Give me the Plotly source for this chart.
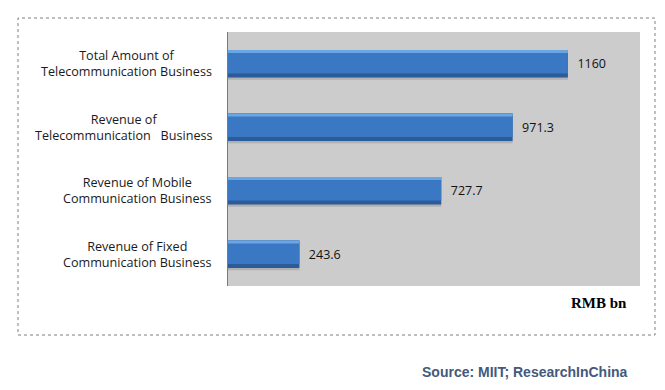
import plotly.graph_objects as go

categories = [
    "Total Amount of<br>Telecommunication Business",
    "Revenue of<br>Telecommunication   Business",
    "Revenue of Mobile<br>Communication Business",
    "Revenue of Fixed<br>Communication Business",
]
values = [1160, 971.3, 727.7, 243.6]
unit_label = "RMB bn"
source_text = "Source: MIIT; ResearchInChina"

cat_ids = list(range(len(categories)))
texts = [f"{v:g}" for v in values]

fig = go.Figure()

# shadow
fig.add_trace(go.Bar(y=cat_ids, x=values, orientation="h", width=0.43, offset=-0.215 + 0.035,
                     marker=dict(color="#b0b0b0", line=dict(width=0)), hoverinfo="skip"))
# base (dark bottom edge)
fig.add_trace(go.Bar(y=cat_ids, x=values, orientation="h", width=0.43, offset=-0.215,
                     marker=dict(color="#2b5b99", line=dict(width=0)),
                     text=texts, textposition="outside", texttemplate="  %{text}",
                     textfont=dict(family="Open Sans", size=12.5, color="#111111"),
                     cliponaxis=False))
# middle
fig.add_trace(go.Bar(y=cat_ids, x=values, orientation="h", width=0.37, offset=-0.215,
                     marker=dict(color="#3a78c4", line=dict(width=0)), hoverinfo="skip"))
# top highlight
fig.add_trace(go.Bar(y=cat_ids, x=values, orientation="h", width=0.045, offset=-0.215,
                     marker=dict(color="#6aa6e3", line=dict(width=0)), hoverinfo="skip"))

for i, c in enumerate(categories):
    fig.add_annotation(x=-0.034, xref="paper", y=i, yref="y", text=c, showarrow=False,
                       xanchor="right", align="center",
                       font=dict(family="Open Sans", size=12.6, color="#1a1a1a"))

fig.add_annotation(x=0.974, xref="paper", y=-0.067, yref="paper", text=f"<b>{unit_label}</b>",
                   showarrow=False, xanchor="right", yanchor="middle",
                   font=dict(family="Liberation Serif", size=15, color="#000000"))
fig.add_annotation(x=0.976, xref="paper", y=-0.339, yref="paper", text=f"<b>{source_text}</b>",
                   showarrow=False, xanchor="right", yanchor="middle",
                   font=dict(family="Liberation Sans", size=14, color="#44597c"))

fig.add_shape(type="rect", xref="paper", yref="paper", x0=-0.5097, x1=1.0364, y0=-0.193, y1=1.055,
              line=dict(color="#7f7f7f", width=1, dash="dot"), fillcolor="rgba(0,0,0,0)", layer="below")

fig.update_layout(
    width=657, height=382,
    margin=dict(l=220, r=25, t=24, b=104),
    barmode="overlay",
    showlegend=False,
    paper_bgcolor="white",
    plot_bgcolor="#cccccc",
    xaxis=dict(range=[0, 1406], showgrid=False, zeroline=False, showticklabels=False, ticks=""),
    yaxis=dict(range=[3.5, -0.5], showgrid=False, zeroline=False, showticklabels=False, ticks="",
               showline=True, linecolor="#7a7a7a", linewidth=1),
)

fig.write_html("out.html")
